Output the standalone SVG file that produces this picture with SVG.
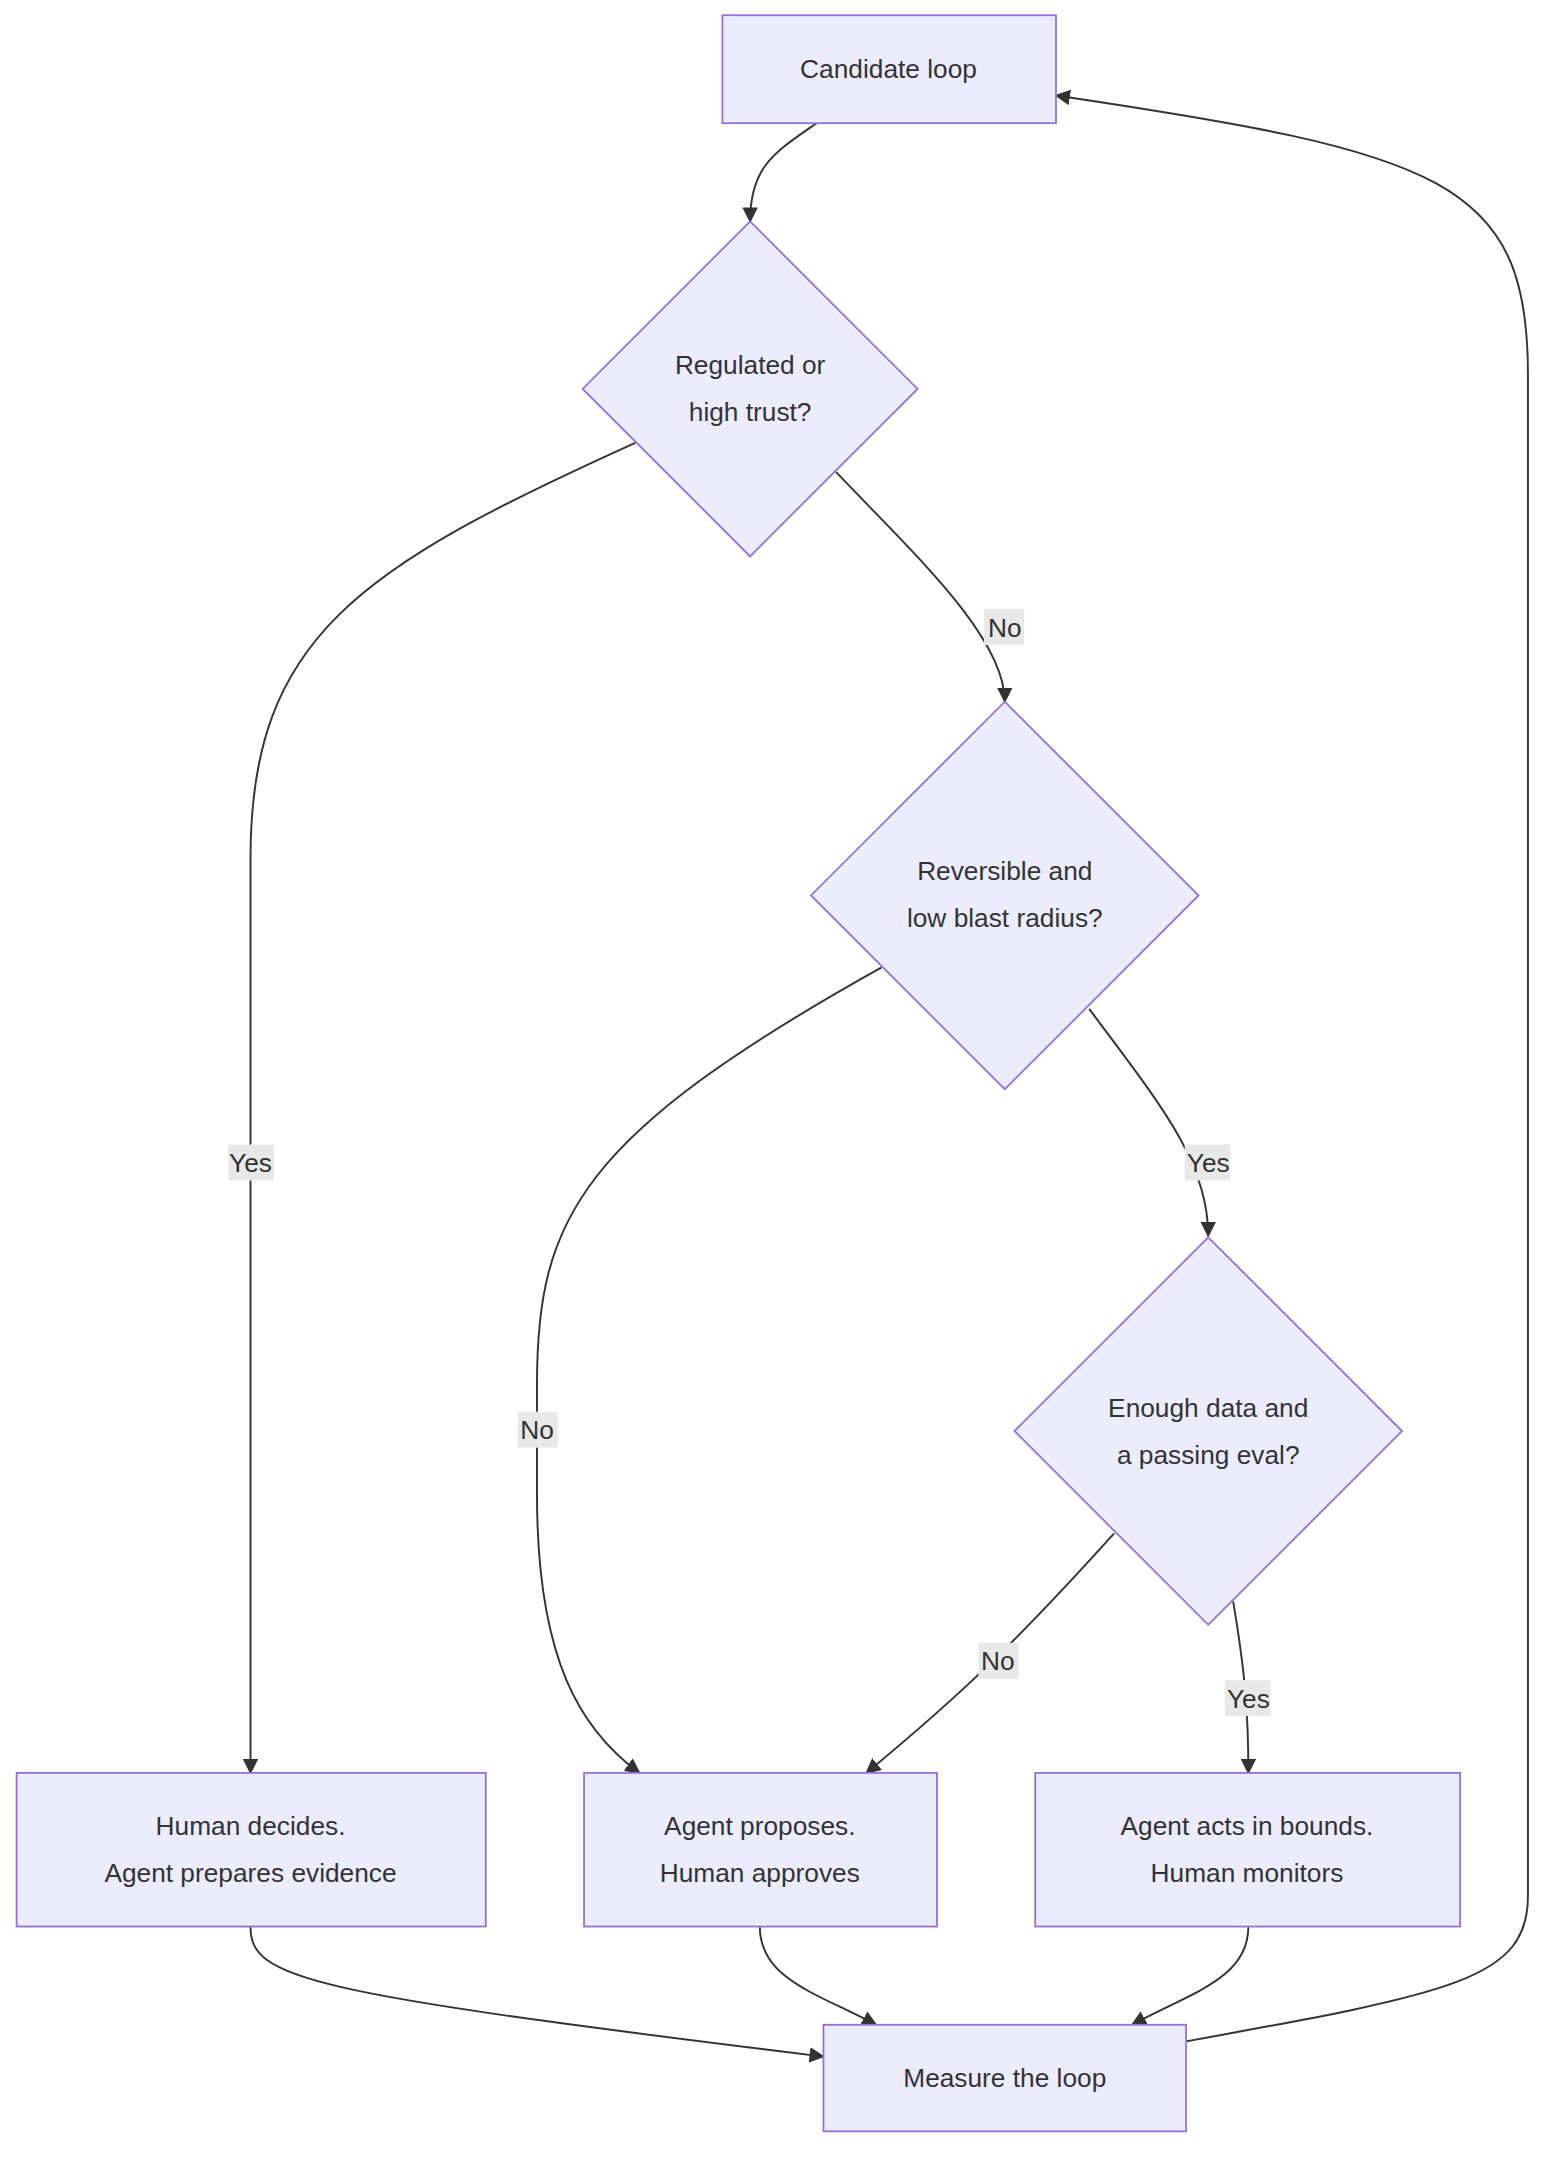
<svg xmlns="http://www.w3.org/2000/svg" width="1564" height="2174" viewBox="0 0 1564 2174">
<style>
.n{fill:#ECECFF;stroke:#9370DB;stroke-width:1.3}
.t{font-family:"Liberation Sans",Arial,sans-serif;font-size:19px;fill:#333;text-anchor:middle}
.e{fill:none;stroke:#333;stroke-width:1.4}
.lb{fill:#e8e8e8}
</style>
<defs><marker id="a" viewBox="0 0 10 10" refX="9" refY="5" markerWidth="8" markerHeight="8" orient="auto-start-reverse"><path d="M0,0L10,5L0,10z" fill="#333"/></marker></defs>
<rect width="1564" height="2174" fill="#fff"/>
<g transform="scale(1.384)">
<g id="connectors">
<path class="e" marker-end="url(#a)" d="M590,89C560,110 542,120 542,160"/>
<path class="e" marker-end="url(#a)" d="M459,320C260,410 181,460 181,620L181,1281"/>
<path class="e" marker-end="url(#a)" d="M604,341C660,400 726,460 726,507"/>
<path class="e" marker-end="url(#a)" d="M637,699C420,820 388,880 388,1000L388,1080C388,1200 420,1250 462,1281"/>
<path class="e" marker-end="url(#a)" d="M787,729C840,800 873,840 873,893"/>
<path class="e" marker-end="url(#a)" d="M805,1108C740,1180 700,1220 626,1281"/>
<path class="e" marker-end="url(#a)" d="M891,1157C900,1210 902,1240 902,1281"/>
<path class="e" marker-end="url(#a)" d="M181,1392C181,1430 220,1440 595,1486"/>
<path class="e" marker-end="url(#a)" d="M549,1392C549,1430 590,1440 633,1463"/>
<path class="e" marker-end="url(#a)" d="M902,1392C902,1430 860,1440 818,1463"/>
<path class="e" marker-end="url(#a)" d="M857,1475C1050,1440 1104,1430 1104,1370L1104,270C1104,130 1040,110 763,69"/>
<g>
<rect class="lb" x="165" y="827" width="33" height="26"/><text class="t" x="181" y="847">Yes</text>
<rect class="lb" x="711" y="440" width="29" height="26"/><text class="t" x="726" y="460">No</text>
<rect class="lb" x="374" y="1020" width="29" height="26"/><text class="t" x="388" y="1040">No</text>
<rect class="lb" x="856" y="827" width="33" height="26"/><text class="t" x="873" y="847">Yes</text>
<rect class="lb" x="707" y="1187" width="29" height="26"/><text class="t" x="721" y="1207">No</text>
<rect class="lb" x="885" y="1214" width="33" height="26"/><text class="t" x="902" y="1234">Yes</text>
</g>
</g>
<g id="candidate"><rect class="n" x="522" y="11" width="241" height="78"/><text class="t" x="642" y="56">Candidate loop</text></g>
<g id="d1"><polygon class="n" points="542,160 663,281 542,402 421,281"/><text class="t" x="542" y="270">Regulated or</text><text class="t" x="542" y="304">high trust?</text></g>
<g id="d2"><polygon class="n" points="726,507 866,647 726,787 586,647"/><text class="t" x="726" y="636">Reversible and</text><text class="t" x="726" y="670">low blast radius?</text></g>
<g id="d3"><polygon class="n" points="873,894 1013,1034 873,1174 733,1034"/><text class="t" x="873" y="1024">Enough data and</text><text class="t" x="873" y="1058">a passing eval?</text></g>
<g id="human"><rect class="n" x="12" y="1281" width="339" height="111"/><text class="t" x="181" y="1326">Human decides.</text><text class="t" x="181" y="1360">Agent prepares evidence</text></g>
<g id="propose"><rect class="n" x="422" y="1281" width="255" height="111"/><text class="t" x="549" y="1326">Agent proposes.</text><text class="t" x="549" y="1360">Human approves</text></g>
<g id="acts"><rect class="n" x="748" y="1281" width="307" height="111"/><text class="t" x="901" y="1326">Agent acts in bounds.</text><text class="t" x="901" y="1360">Human monitors</text></g>
<g id="measure"><rect class="n" x="595" y="1463" width="262" height="77"/><text class="t" x="726" y="1508">Measure the loop</text></g>
</g>
</svg>
